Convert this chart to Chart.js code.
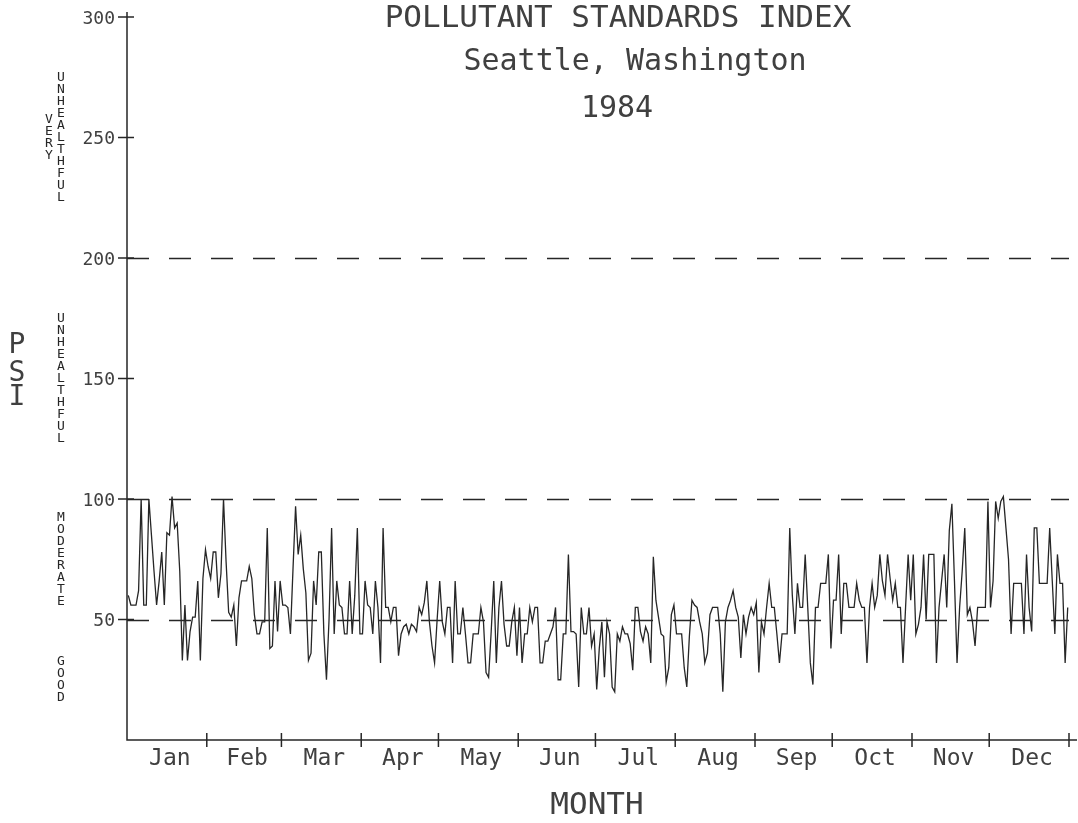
<!DOCTYPE html>
<html>
<head>
<meta charset="utf-8">
<title>Pollutant Standards Index - Seattle 1984</title>
<script src="https://cdn.jsdelivr.net/npm/chart.js@4.4.0/dist/chart.umd.min.js"></script>
<style>
  html, body { margin: 0; padding: 0; background: #fff; }
  #wrap { width: 1078px; height: 823px; position: relative; }
</style>
</head>
<body>
<div id="wrap"><canvas id="psiChart" width="1078" height="823"></canvas></div>
<script>
// Months of 1984 (leap year)
const months = ['Jan', 'Feb', 'Mar', 'Apr', 'May', 'Jun', 'Jul', 'Aug', 'Sep', 'Oct', 'Nov', 'Dec'];
const monthDays = [31, 29, 31, 30, 31, 30, 31, 31, 30, 31, 30, 31];

// Daily PSI values
const psiJan = [60, 56, 56, 56, 62, 100, 56, 56, 100, 85, 70, 56, 66, 78, 56, 86, 85, 101, 88, 90, 70, 33, 56, 33, 45, 51, 51, 66, 33, 67, 79];
const psiFeb = [72, 67, 78, 78, 59, 69, 100, 74, 53, 51, 56, 39, 59, 66, 66, 66, 72, 67, 52, 44, 44, 49, 49, 88, 38, 39, 66, 45, 66];
const psiMar = [56, 56, 55, 44, 71, 97, 77, 85, 71, 61, 33, 36, 66, 56, 78, 78, 44, 25, 50, 88, 44, 66, 56, 55, 44, 44, 66, 44, 60, 88, 44];
const psiApr = [44, 66, 56, 55, 44, 66, 55, 32, 88, 55, 55, 49, 55, 55, 35, 44, 47, 48, 44, 48, 47, 45, 55, 52, 57, 66, 49, 39, 32, 50];
const psiMay = [66, 49, 44, 55, 55, 32, 66, 44, 44, 55, 44, 32, 32, 44, 44, 44, 55, 49, 28, 26, 45, 66, 32, 55, 66, 48, 39, 39, 49, 55, 35];
const psiJun = [55, 32, 44, 44, 55, 49, 55, 55, 32, 32, 41, 41, 44, 47, 55, 25, 25, 44, 44, 77, 45, 45, 44, 22, 55, 44, 44, 55, 39, 44];
const psiJul = [21, 38, 49, 26, 49, 44, 22, 20, 44, 41, 47, 44, 44, 40, 29, 55, 55, 45, 41, 47, 44, 32, 76, 58, 51, 44, 43, 24, 30, 52, 56];
const psiAug = [44, 44, 44, 30, 22, 43, 58, 56, 55, 49, 44, 32, 36, 52, 55, 55, 55, 44, 20, 49, 55, 58, 62, 55, 51, 34, 52, 44, 51, 55, 52];
const psiSep = [57, 28, 49, 44, 55, 65, 55, 55, 44, 32, 44, 44, 44, 88, 60, 44, 65, 55, 55, 77, 55, 32, 23, 55, 55, 65, 65, 65, 77, 38];
const psiOct = [58, 58, 77, 44, 65, 65, 55, 55, 55, 65, 58, 55, 55, 32, 55, 65, 55, 60, 77, 66, 60, 77, 67, 58, 65, 55, 55, 32, 55, 77, 58];
const psiNov = [77, 44, 48, 55, 77, 50, 77, 77, 77, 32, 55, 66, 77, 55, 87, 98, 66, 32, 55, 70, 88, 52, 55, 49, 39, 55, 55, 55, 55, 99];
const psiDec = [55, 66, 99, 92, 99, 101, 88, 75, 44, 65, 65, 65, 65, 44, 77, 55, 45, 88, 88, 65, 65, 65, 65, 88, 66, 44, 77, 65, 65, 32, 55];

// Axis and annotation values
const yTickValues = [50, 100, 150, 200, 250, 300];
const refLevels = [50, 100, 200];
const bandNames = [['VERY', 'UNHEALTHFUL'], ['UNHEALTHFUL'], ['MODERATE'], ['GOOD']];
const bandRanges = [[200, 300], [100, 200], [50, 100], [0, 50]];
const titleLines = ['POLLUTANT STANDARDS INDEX', 'Seattle, Washington', '1984'];
const xTitle = 'MONTH';
const yTitle = 'PSI';

const ink = '#262626';
const textInk = '#404040';
const mono = '"DejaVu Sans Mono", "Liberation Mono", monospace';

// build daily points, day i sits in the middle of its slot
const psiDaily = [].concat(psiJan, psiFeb, psiMar, psiApr, psiMay, psiJun,
                           psiJul, psiAug, psiSep, psiOct, psiNov, psiDec);
const points = psiDaily.map((v, i) => ({ x: i + 0.5, y: v }));

const monthStarts = [];
let total = 0;
monthDays.forEach(d => { monthStarts.push(total); total += d; });

function drawText(ctx, str, x, y, size, align) {
    ctx.font = size + 'px ' + mono;
    ctx.textAlign = align || 'center';
    ctx.fillText(str, x, y);
}

const paperMarks = {
    id: 'paperMarks',
    beforeDatasetsDraw(chart) {
        const { ctx, chartArea: a, scales: { y } } = chart;
        ctx.save();
        ctx.strokeStyle = ink;
        ctx.lineWidth = 1.3;
        ctx.setLineDash([22, 20]);
        refLevels.forEach(v => {
            const py = Math.round(y.getPixelForValue(v)) + 0.5;
            ctx.beginPath();
            ctx.moveTo(a.left, py);
            ctx.lineTo(a.right, py);
            ctx.stroke();
        });
        ctx.restore();
    },
    afterDraw(chart) {
        const { ctx, chartArea: a, scales: { x, y } } = chart;
        ctx.save();
        ctx.strokeStyle = ink;
        ctx.fillStyle = textInk;
        ctx.lineWidth = 1.5;

        // axes
        ctx.beginPath();
        ctx.moveTo(a.left, a.top - 5);
        ctx.lineTo(a.left, a.bottom);
        ctx.lineTo(a.right + 8, a.bottom);
        ctx.stroke();

        // y ticks and labels
        ctx.textBaseline = 'alphabetic';
        yTickValues.forEach(v => {
            const py = y.getPixelForValue(v);
            ctx.beginPath();
            ctx.moveTo(a.left - 9, py);
            ctx.lineTo(a.left + 7, py);
            ctx.stroke();
            drawText(ctx, String(v), a.left - 12, py + 6.5, 18, 'right');
        });

        // month boundary ticks and month names
        monthStarts.concat([total]).forEach((d, i) => {
            if (i === 0) return;
            const px = x.getPixelForValue(d);
            ctx.beginPath();
            ctx.moveTo(px, a.bottom - 7);
            ctx.lineTo(px, a.bottom + 7);
            ctx.stroke();
        });
        months.forEach((m, i) => {
            const px = x.getPixelForValue(monthStarts[i] + monthDays[i] / 2) + 3;
            drawText(ctx, m, px, a.bottom + 25, 23, 'center');
        });

        // band names, letters stacked vertically
        ctx.fillStyle = ink;
        ctx.textBaseline = 'middle';
        bandNames.forEach((words, b) => {
            const yc = y.getPixelForValue((bandRanges[b][0] + bandRanges[b][1]) / 2);
            words.forEach((word, c) => {
                const cx = 61 - (words.length - 1 - c) * 12;
                const n = word.length;
                for (let k = 0; k < n; k++) {
                    drawText(ctx, word[k], cx, yc + (k - (n - 1) / 2) * 12, 13, 'center');
                }
            });
        });

        // PSI axis title, stacked
        ctx.fillStyle = textInk;
        ctx.textBaseline = 'alphabetic';
        const psiBase = [353, 381, 405];
        for (let k = 0; k < yTitle.length; k++) {
            drawText(ctx, yTitle[k], 17, psiBase[k], 28, 'center');
        }

        // MONTH axis title
        drawText(ctx, xTitle, 597, 814, 31, 'center');

        // title block
        drawText(ctx, titleLines[0], 618, 27, 31, 'center');
        drawText(ctx, titleLines[1], 635, 70, 30, 'center');
        drawText(ctx, titleLines[2], 617, 117, 30, 'center');

        ctx.restore();
    }
};

const ctx = document.getElementById('psiChart').getContext('2d');
const psiChart = new Chart(ctx, {
    type: 'line',
    data: {
        datasets: [{
            label: 'PSI',
            data: points,
            borderColor: ink,
            borderWidth: 1.3,
            pointRadius: 0,
            tension: 0,
            fill: false
        }]
    },
    options: {
        responsive: false,
        animation: false,
        devicePixelRatio: 1,
        layout: { padding: { left: 127, top: 17, right: 9, bottom: 83 } },
        plugins: {
            legend: { display: false },
            tooltip: { enabled: false }
        },
        scales: {
            x: { type: 'linear', display: false, min: 0, max: total },
            y: { type: 'linear', display: false, min: 0, max: 300 }
        }
    },
    plugins: [paperMarks]
});
</script>
</body>
</html>
